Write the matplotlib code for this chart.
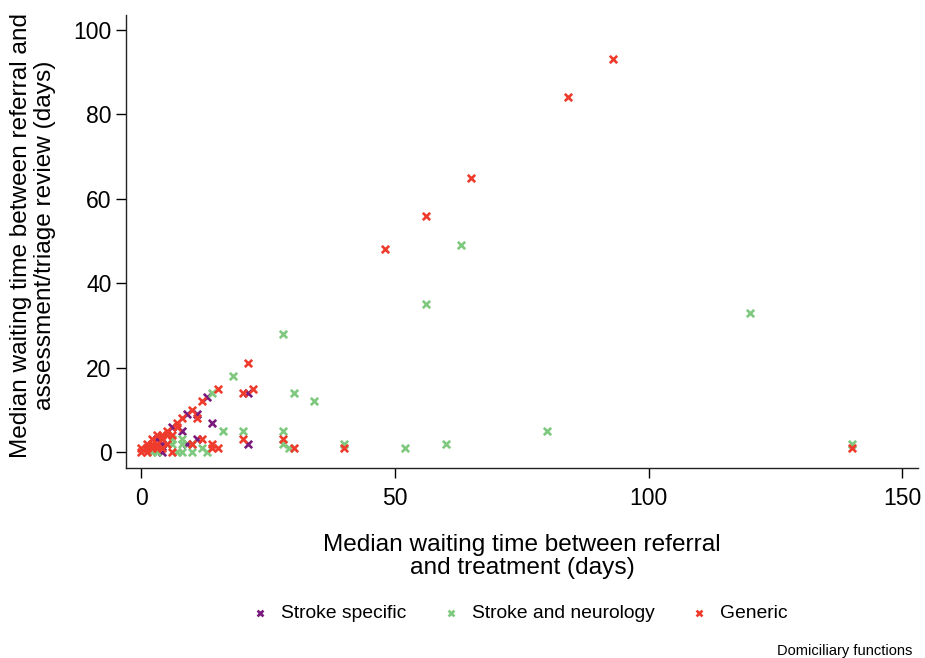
import matplotlib
matplotlib.use("Agg")
import matplotlib.pyplot as plt

plt.rcParams['font.family'] = ['Liberation Sans', 'DejaVu Sans']

# Median waiting times (days): x = referral to treatment, y = referral to assessment/triage review
series_names = ["Stroke specific", "Stroke and neurology", "Generic"]
series_colors = ["#7a1a7c", "#7fc97f", "#ef3b2c"]

stroke_specific_x = [1, 3, 4, 4, 6, 8, 9, 9, 11, 11, 13, 14, 21, 21]
stroke_specific_y = [1, 3, 2, 0, 6, 5, 9, 2, 9, 3, 13, 7, 14, 2]

stroke_neuro_x = [18, 14, 16, 20, 28, 30, 34, 28, 28, 29, 40, 52, 60, 80, 120, 140,
                  63, 56, 12, 13, 10, 8, 7, 3, 2, 8, 6, 6, 8, 10]
stroke_neuro_y = [18, 14, 5, 5, 28, 14, 12, 5, 2, 1, 2, 1, 2, 5, 33, 2,
                  49, 35, 1, 0, 0, 0, 0, 0, 0, 2, 2, 3, 3, 2]

generic_x = [93, 84, 65, 56, 48, 140, 40, 30, 28, 21, 22, 20, 15, 12, 10, 11, 8, 7,
             7, 5, 4, 6, 4, 2, 3, 5, 10, 12, 20, 14, 15, 14, 1, 2, 4, 0, 1, 6,
             3, 2, 3, 1, 0, 5]
generic_y = [93, 84, 65, 56, 48, 1, 1, 1, 3, 21, 15, 14, 15, 12, 10, 8, 8, 7,
             6, 5, 4, 4, 3, 2, 2, 2, 2, 3, 3, 2, 1, 1, 1, 1, 1, 0, 0, 0,
             1, 3, 4, 2, 1, 4]

x_ticks = [0, 50, 100, 150]
y_ticks = [0, 20, 40, 60, 80, 100]

fig = plt.figure(figsize=(9.25, 6.58), dpi=100)
ax = fig.add_axes([126 / 925, 1 - 467.7 / 658, (918 - 126) / 925, (467.7 - 15) / 658])

all_x = [stroke_specific_x, stroke_neuro_x, generic_x]
all_y = [stroke_specific_y, stroke_neuro_y, generic_y]
handles = []
for xs, ys, name, col in zip(all_x, all_y, series_names, series_colors):
    h = ax.scatter(xs, ys, marker='x', s=28, linewidths=1.9, color=col, label=name)
    handles.append(h)

ax.set_xlim(-3.05, 153.1)
ax.set_ylim(-3.7, 103.5)
ax.set_xticks(x_ticks)
ax.set_yticks(y_ticks)

for side in ('top', 'right'):
    ax.spines[side].set_visible(False)
for side in ('left', 'bottom'):
    ax.spines[side].set_linewidth(1.0)
    ax.spines[side].set_color('#222222')

ax.tick_params(axis='both', direction='out', length=7, width=1.0, labelsize=16.5, colors='black')
ax.tick_params(axis='x', pad=7)
ax.tick_params(axis='y', pad=3.5)

ax.set_xlabel("Median waiting time between referral\nand treatment (days)", fontsize=17.6, linespacing=1.1)
ax.xaxis.set_label_coords(0.5, (467.7 - 533.5) / 452.7)
ax.set_ylabel("Median waiting time between referral and\nassessment/triage review (days)", fontsize=17.6,
              linespacing=1.1)
ax.yaxis.set_label_coords((56 - 126) / 792, 0.513)

fig.legend(handles=handles, labels=series_names, loc='center',
           bbox_to_anchor=(519 / 925, 1 - 613.5 / 658), ncol=3, frameon=False,
           fontsize=13.9, scatterpoints=1, markerscale=0.8, handlelength=1.0,
           handletextpad=0.59, columnspacing=1.8)

fig.text(912 / 925, 1 - 651 / 658, "Domiciliary functions", ha='right', va='center', fontsize=10.5)

fig.savefig("out.png", dpi=100)
